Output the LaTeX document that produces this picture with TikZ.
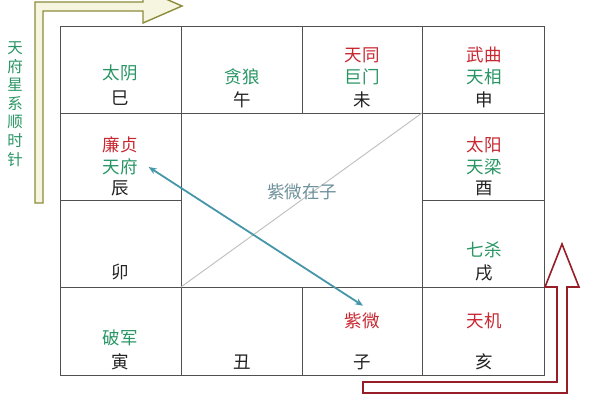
\documentclass[tikz,border=0pt]{standalone}
\usepackage{fontspec}
\setmainfont{Noto Sans CJK SC}
\usetikzlibrary{arrows.meta}
\definecolor{sgreen}{RGB}{40,150,100}
\definecolor{sred}{RGB}{200,40,50}
\definecolor{stext}{RGB}{34,34,34}
\definecolor{gridc}{RGB}{80,80,80}
\definecolor{diagc}{RGB}{190,190,190}
\definecolor{arrowc}{RGB}{70,150,170}
\definecolor{centerc}{RGB}{110,145,155}
\definecolor{olivec}{RGB}{140,140,60}
\definecolor{olivefill}{RGB}{246,246,224}
\definecolor{darkred}{RGB}{150,30,40}
\begin{document}
\begin{tikzpicture}[x=1pt,y=-1pt,
  base/.style={inner sep=0pt, font=\fontsize{17.5}{19}\selectfont},
  gtxt/.style={base, text=sgreen},
  rtxt/.style={base, text=sred},
  btxt/.style={base, text=stext},
  gridline/.style={draw=gridc, line width=0.8pt},
]
\useasboundingbox (0,0) rectangle (600,400);
\fill[white] (0,0) rectangle (600,400);

% grid
\draw[gridline] (60,26) rectangle (544,375);
\draw[gridline] (181,26) -- (181,375);
\draw[gridline] (422,26) -- (422,375);
\draw[gridline] (302,26) -- (302,113);
\draw[gridline] (302,287) -- (302,375);
\draw[gridline] (60,113) -- (544,113);
\draw[gridline] (60,287) -- (544,287);
\draw[gridline] (60,200) -- (181,200);
\draw[gridline] (422,200) -- (544,200);

% diagonal
\coordinate (dtr) at (422,113);
\coordinate (dbl) at (181,287);
\draw[diagc, line width=0.9pt] (dtr) -- (dbl);

% top row
\node[gtxt] (taiyin) at (120,73) {太阴};
\node[btxt] (si) at (120,98) {巳};
\node[gtxt] (tanlang) at (242,77) {贪狼};
\node[btxt] (wu) at (242,100) {午};
\node[rtxt] (tiantong) at (362,55) {天同};
\node[gtxt] (jumen) at (362,77) {巨门};
\node[btxt] (wei) at (362,100) {未};
\node[rtxt] (wuqu) at (484,55) {武曲};
\node[gtxt] (tianxiang) at (484,77) {天相};
\node[btxt] (shen) at (484,100) {申};

% second row
\node[rtxt] (lianzhen) at (120,145) {廉贞};
\node[gtxt] (tianfu) at (120,167) {天府};
\node[btxt] (chen) at (120,188) {辰};
\node[rtxt] (taiyang) at (484,145) {太阳};
\node[gtxt] (tianliang) at (484,167) {天梁};
\node[btxt] (you) at (484,188) {酉};

% center
\node[base, text=centerc] (center) at (302,192) {紫微在子};

% third row
\node[btxt] (mao) at (120,272) {卯};
\node[gtxt] (qisha) at (484,250) {七杀};
\node[btxt] (xu) at (484,273) {戌};

% bottom row
\node[gtxt] (pojun) at (120,338) {破军};
\node[btxt] (yin) at (120,362) {寅};
\node[btxt] (chou) at (242,362) {丑};
\node[rtxt] (ziwei) at (362,321) {紫微};
\node[btxt] (zi) at (362,362) {子};
\node[rtxt] (tianji) at (484,321) {天机};
\node[btxt] (hai) at (484,362) {亥};

% teal double arrow
\draw[arrowc, line width=1.8pt, {Stealth[length=8pt,width=6.5pt]}-{Stealth[length=8pt,width=6.5pt]}]
  ([xshift=11pt]tianfu.east) -- ([yshift=7pt,xshift=1pt]ziwei.north);

% olive L arrow (top-left)
\draw[olivec, line width=1.4pt, fill=olivefill, line join=miter]
  (35,203) -- (35,2) -- (143,2) -- (143,-11) -- (182,6) -- (143,23) -- (143,11) -- (43,11) -- (43,203) -- cycle;

% vertical label
\node[inner sep=0pt, text=sgreen, align=center, font=\fontsize{15.5}{18.6}\selectfont] (vlabel) at (15,104)
  {天\\府\\星\\系\\顺\\时\\针};

% red L arrow (bottom-right)
\draw[darkred, line width=1.6pt, fill=white, line join=miter]
  (363,382) -- (557,382) -- (557,287) -- (545,287) -- (562,244) -- (579,287) -- (567,287) -- (567,393) -- (363,393) -- cycle;
\end{tikzpicture}
\end{document}
